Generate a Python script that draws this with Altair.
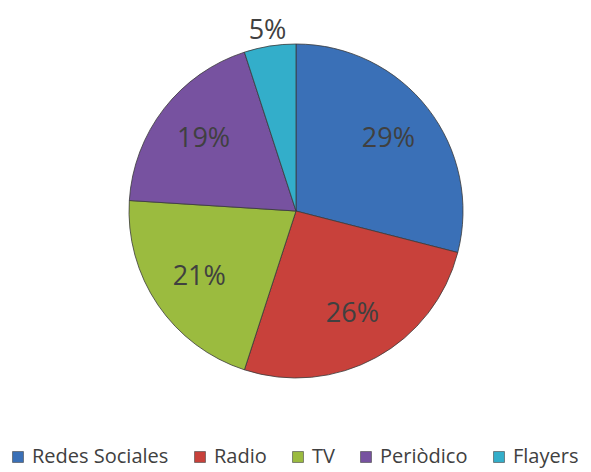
import altair as alt
import pandas as pd

categories = ["Redes Sociales", "Radio", "TV", "Periòdico", "Flayers"]
values = [29, 26, 21, 19, 5]
labels = ["29%", "26%", "21%", "19%", "5%"]
colors = ["#3A70B7", "#C8413B", "#9BBB3F", "#7752A0", "#33AECA"]

df = pd.DataFrame({"cat": categories, "v": values, "lab": labels, "o": list(range(len(categories)))})

CX, CY = 288, 203

base = alt.Chart(df).encode(
    theta=alt.Theta("v:Q", stack=True),
    order=alt.Order("o:Q"),
)

color = alt.Color(
    "cat:N",
    scale=alt.Scale(domain=categories, range=colors),
    sort=categories,
    legend=alt.Legend(
        orient="none", legendX=0, legendY=439, direction="horizontal",
        title=None, symbolType="square", symbolSize=120, symbolStrokeWidth=0.6,
        symbolStrokeColor="#444",
        labelFont="Open Sans", labelFontSize=20, labelColor="#404040",
        labelOffset=4, columnPadding=21, labelLimit=300,
    ),
)

pie = base.mark_arc(outerRadius=167, stroke="#3a3a3a", strokeWidth=0.8).encode(
    color=color, x=alt.value(CX), y=alt.value(CY)
)

inside = base.mark_text(radius=117, font="Open Sans", fontSize=27, color="#404040").encode(
    text="lab:N", x=alt.value(CX), y=alt.value(CY)
).transform_filter("datum.v >= 10")

outside_all = base.mark_text(radius=182, font="Open Sans", fontSize=27, color="#404040").encode(
    text=alt.Text("lab2:N"), x=alt.value(CX), y=alt.value(CY)
).transform_calculate(lab2="datum.v < 10 ? datum.lab : ''")

chart = alt.layer(pie, inside, outside_all).properties(
    width=575, height=464, padding=0, autosize=alt.AutoSizeParams(type="none")
).configure_view(stroke=None)

chart.save("out.html", embed_options={"renderer": "svg", "actions": False})
